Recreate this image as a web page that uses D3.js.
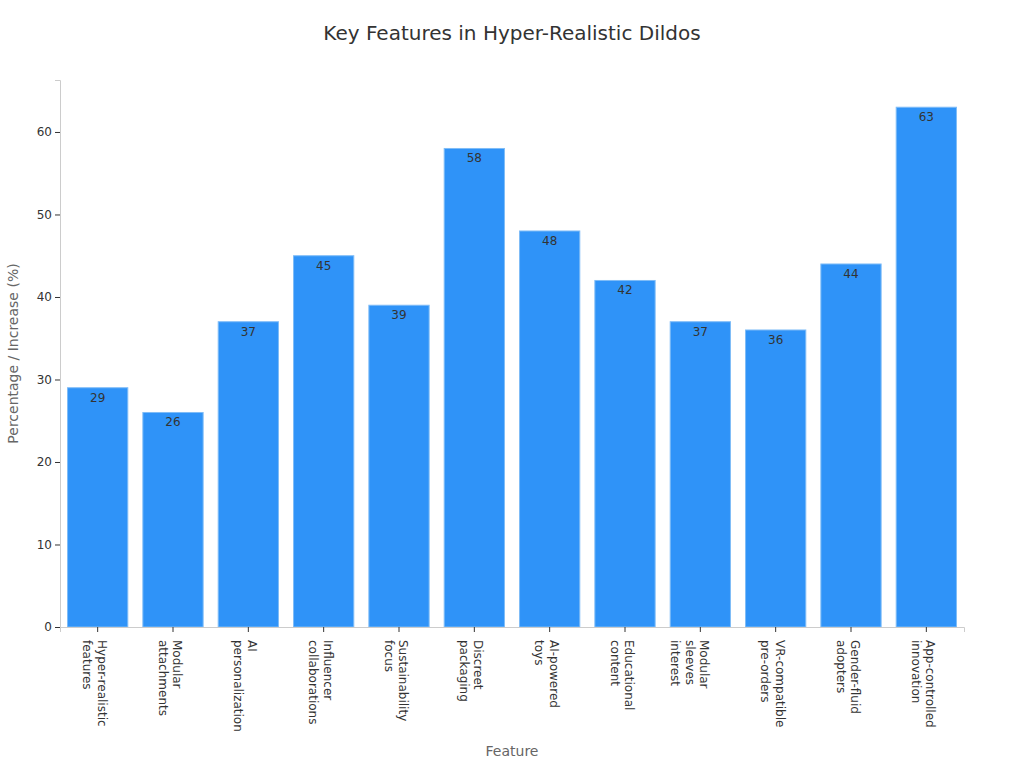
<!DOCTYPE html>
<html><head><meta charset="utf-8">
<script src="https://cdn.jsdelivr.net/npm/d3@7"></script>
<style>body{margin:0;background:#fff;font-family:"DejaVu Sans",sans-serif;}</style>
</head><body><svg id="c" width="1024" height="768"></svg>
<script>
const categories = [["Hyper-realistic","features"],["Modular","attachments"],["AI","personalization"],["Influencer","collaborations"],["Sustainability","focus"],["Discreet","packaging"],["AI-powered","toys"],["Educational","content"],["Modular","sleeves","interest"],["VR-compatible","pre-orders"],["Gender-fluid","adopters"],["App-controlled","innovation"]];
const values = [29,26,37,45,39,58,48,42,37,36,44,63];
const yTicks = [0,10,20,30,40,50,60];

const svg = d3.select("#c");
const m = {l:60, r:60, t:80, b:141};
const W = 1024, H = 768;
const x = d3.scaleBand().domain(d3.range(values.length)).range([m.l, W - m.r]).paddingInner(0.2).paddingOuter(0.1);
const y = d3.scaleLinear().domain([0, 66.3]).range([H - m.b, m.t]);

svg.append("text").attr("x", 512).attr("y", 40).attr("text-anchor","middle")
  .attr("font-size", 20).attr("fill","#333").text("Key Features in Hyper-Realistic Dildos");

svg.selectAll("rect.bar").data(values).join("rect").attr("class","bar")
  .attr("x",(d,i)=>x(i)).attr("width",x.bandwidth())
  .attr("y",d=>y(d)).attr("height",d=>y(0)-y(d))
  .attr("fill","#2f93f8").attr("stroke","#7fbcf7").attr("stroke-width",1);

svg.selectAll("text.val").data(values).join("text").attr("class","val")
  .attr("x",(d,i)=>x(i)+x.bandwidth()/2).attr("y",d=>y(d)+14)
  .attr("text-anchor","middle").attr("font-size",12).attr("fill","#333").text(d=>d);

const ya = svg.append("g").attr("transform",`translate(${m.l},0)`)
  .call(d3.axisLeft(y).tickValues(yTicks).tickSize(5).tickPadding(3));
ya.select(".domain").attr("stroke","#ccc");
ya.selectAll(".tick line").attr("stroke","#333");
ya.selectAll(".tick text").attr("font-size",12).attr("fill","#333").attr("font-family","DejaVu Sans");

const xa = svg.append("g").attr("transform",`translate(0,${y(0)})`)
  .call(d3.axisBottom(x).tickSize(5).tickFormat(""));
xa.select(".domain").attr("stroke","#ccc");
xa.selectAll(".tick line").attr("stroke","#333");
xa.selectAll(".tick").each(function(d){
  const t = d3.select(this).append("text").attr("transform","translate(0,13) rotate(90)")
    .attr("text-anchor","start").attr("font-size",12).attr("fill","#333").attr("font-family","DejaVu Sans");
  categories[d].forEach((s,j)=>{
    t.append("tspan").attr("x",0).attr("y", j*14.5).text(s);
  });
});

svg.append("text").attr("x", 512).attr("y", 756).attr("text-anchor","middle")
  .attr("font-size",14).attr("fill","#666").text("Feature");
svg.append("text").attr("transform",`translate(18,${(m.t + H - m.b)/2}) rotate(-90)`)
  .attr("text-anchor","middle").attr("font-size",14).attr("fill","#666").text("Percentage / Increase (%)");
</script></body></html>
